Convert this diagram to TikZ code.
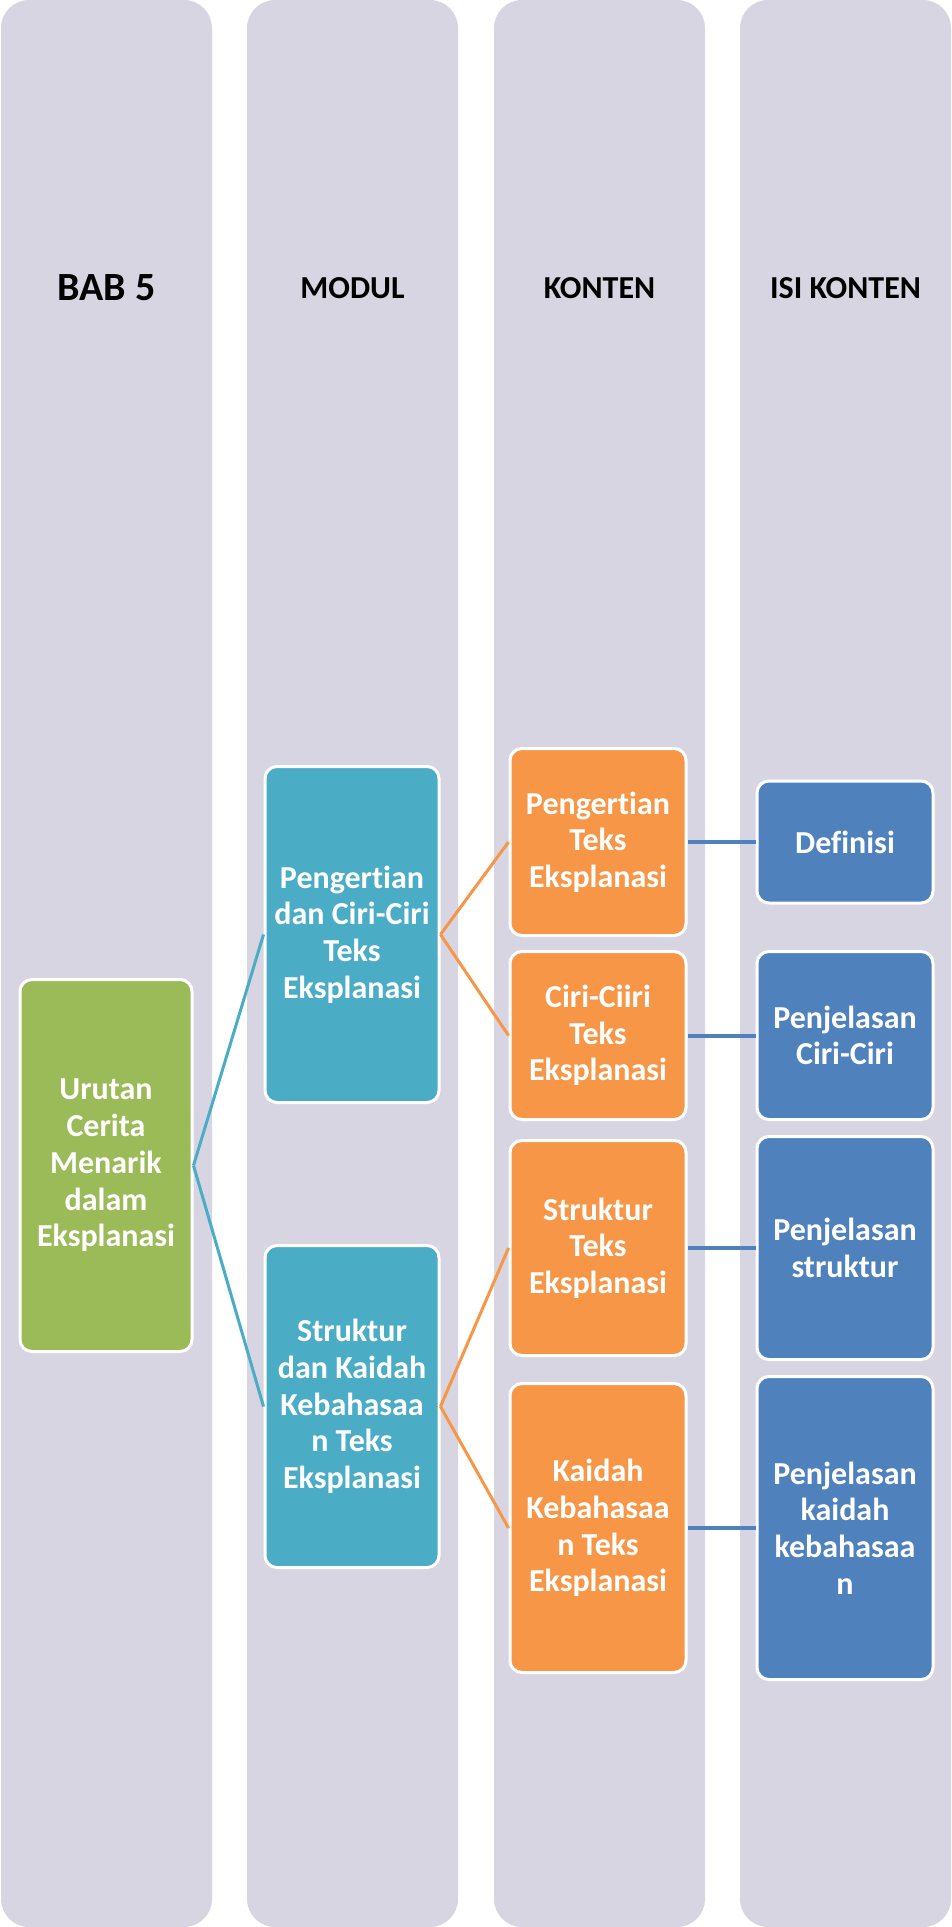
\documentclass[tikz,border=0pt]{standalone}
\usepackage{fontspec}
\setmainfont{Carlito}[Ligatures=NoCommon]
\usepackage{tikz}
\definecolor{lavcol}{HTML}{D8D5E3}
\definecolor{greencol}{HTML}{9BBB59}
\definecolor{tealcol}{HTML}{4BACC6}
\definecolor{orangecol}{HTML}{F79646}
\definecolor{bluecol}{HTML}{4F81BD}

\begin{document}
\begin{tikzpicture}[x=1pt,y=-1pt,
        column/.style={fill=lavcol,rounded corners=28pt,minimum width=211pt,minimum height=1927pt,inner sep=0pt},
        header/.style={font=\fontsize{32}{38}\selectfont\bfseries},
        box/.style={draw=white,line width=3pt,rounded corners=12pt,text=white,align=center,inner sep=0pt,
                    font=\fontsize{32}{36.7}\selectfont\bfseries},
        greenbox/.style={box,fill=greencol,minimum width=172pt},
        tealbox/.style={box,fill=tealcol,minimum width=174pt},
        orangebox/.style={box,fill=orangecol,minimum width=176pt},
        bluebox/.style={box,fill=bluecol,minimum width=176pt},
        tealline/.style={draw=tealcol,line width=3pt},
        orangeline/.style={draw=orangecol,line width=3pt},
        blueline/.style={draw=bluecol,line width=4pt}]
              \useasboundingbox (0,0) rectangle (951,1927);
              \foreach \i/\x in {1/106.5,2/352.5,3/599.5,4/845.5}
                  \node[column] (col\i) at (\x,963.5) {};
              \node[header,font=\fontsize{40}{48}\selectfont\bfseries] (bab) at (106.5,288) {BAB 5};
              \node[header] (modul) at (352.5,288) {MODUL};
              \node[header] (konten) at (599.5,288) {KONTEN};
              \node[header] (isikonten) at (845.5,288) {ISI KONTEN};

              \node[greenbox,minimum height=372pt] (urutan) at (106,1165.5) {Urutan\\Cerita\\Menarik\\dalam\\Eksplanasi};
              \node[tealbox,minimum height=336pt] (pengciri) at (352,934.5) {Pengertian\\dan Ciri-Ciri\\Teks\\Eksplanasi};
              \node[tealbox,minimum height=322pt] (strukaidah) at (352,1406.5) {Struktur\\dan Kaidah\\Kebahasaa\\n Teks\\Eksplanasi};
              \node[orangebox,minimum height=187pt] (pengertian) at (598,842) {Pengertian\\Teks\\Eksplanasi};
              \node[orangebox,minimum height=168pt] (ciri) at (598,1035.5) {Ciri-Ciiri\\Teks\\Eksplanasi};
              \node[orangebox,minimum height=215pt] (struktur) at (598,1248) {Struktur\\Teks\\Eksplanasi};
              \node[orangebox,minimum height=289pt] (kaidah) at (598,1528) {Kaidah\\Kebahasaa\\n Teks\\Eksplanasi};
              \node[bluebox,minimum height=122pt] (definisi) at (845,842) {Definisi};
              \node[bluebox,minimum height=168pt] (pjciri) at (845,1035.5) {Penjelasan\\Ciri-Ciri};
              \node[bluebox,minimum height=223pt] (pjstruktur) at (845,1248) {Penjelasan\\struktur};
              \node[bluebox,minimum height=303pt] (pjkaidah) at (845,1528) {Penjelasan\\kaidah\\kebahasaa\\n};

              \draw[tealline] (urutan.east) -- (pengciri.west);
              \draw[tealline] (urutan.east) -- (strukaidah.west);
              \draw[orangeline] (pengciri.east) -- (pengertian.west);
              \draw[orangeline] (pengciri.east) -- (ciri.west);
              \draw[orangeline] (strukaidah.east) -- (struktur.west);
              \draw[orangeline] (strukaidah.east) -- (kaidah.west);
              \draw[blueline] (pengertian.east) -- (definisi.west);
              \draw[blueline] (ciri.east) -- (pjciri.west);
              \draw[blueline] (struktur.east) -- (pjstruktur.west);
              \draw[blueline] (kaidah.east) -- (pjkaidah.west);
\end{tikzpicture}
\end{document}
